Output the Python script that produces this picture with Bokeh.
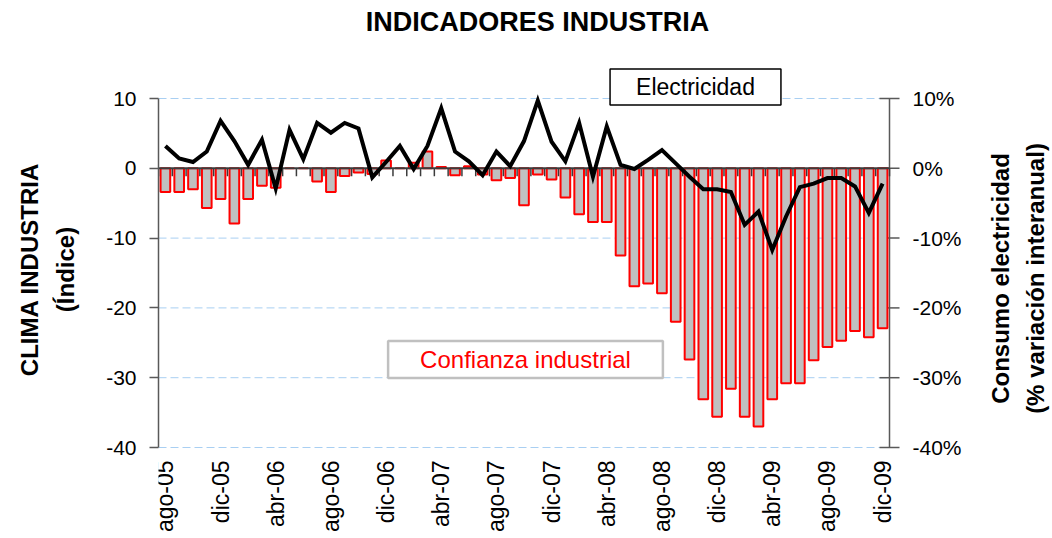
import math
from bokeh.plotting import figure
from bokeh.models import (Range1d, FixedTicker, PrintfTickFormatter,
                          Label, ColumnDataSource)
from bokeh.core.properties import value
from bokeh.embed import file_html
from bokeh.resources import INLINE

# ---------------- data ----------------
month_names = ["ene", "feb", "mar", "abr", "may", "jun", "jul", "ago", "sep", "oct", "nov", "dic"]
months = [f"{month_names[(7 + i) % 12]}-{5 + (7 + i) // 12:02d}" for i in range(53)]

confianza = [-3.4, -3.4, -3.0, -5.7, -4.4, -7.9, -4.4, -2.5, -2.8, 0.0,
             0.0, -1.9, -3.4, -1.1, -0.6, -0.8, 1.1, 0.0, 0.8, 2.4,
             0.2, -1.0, 0.3, -0.9, -1.7, -1.4, -5.3, -0.9, -1.6, -4.2,
             -6.6, -7.7, -7.7, -12.5, -16.9, -16.5, -17.9, -22.0, -27.4, -33.1,
             -35.6, -31.6, -35.6, -37.0, -33.1, -30.8, -30.8, -27.5, -25.6, -24.7,
             -23.3, -24.2, -22.9]

electricidad = [3.2, 1.4, 0.9, 2.4, 6.8, 3.9, 0.5, 4.1, -2.9, 5.5,
                1.3, 6.5, 5.1, 6.5, 5.7, -1.3, 0.9, 3.2, -0.1, 3.2,
                8.6, 2.4, 1.0, -1.0, 2.4, 0.3, 3.9, 9.7, 3.8, 1.0,
                6.5, -1.2, 6.0, 0.5, -0.1, 1.2, 2.6, 0.7, -1.2, -3.0,
                -3.0, -3.4, -8.1, -6.2, -11.7, -6.9, -2.7, -2.2, -1.4, -1.4,
                -2.6, -6.4, -2.2]

axis_ticks = [-40, -30, -20, -10, 0, 10]
pct_labels = [f"{t}%" for t in axis_ticks]
label_every = 4

# ---------------- layout (pixels) ----------------
FONT = "Liberation Sans"
W, H = 1052, 538
FL, FR = 158, 889              # plot-area left / right (pixels)
Y_TOP_PX, Y_BOT_PX = 98, 447   # pixel rows of +10 and -40
AX_COLOR = "#595959"
n = len(months)
ymax_v, ymin_v = max(axis_ticks), min(axis_ticks)
k = (Y_BOT_PX - Y_TOP_PX) / (ymax_v - ymin_v)      # px per unit (y)
kx = (FR - FL) / n                                  # px per month
y_hi = ymax_v + Y_TOP_PX / k
y_lo = ymin_v - (H - Y_BOT_PX) / k
x_hi = (W - FL) / kx

def xd(px):
    return (px - FL) / kx

def yd(py):
    return ymax_v - (py - Y_TOP_PX) / k

xs = [i + 0.5 for i in range(n)]

p = figure(width=W, height=H, output_backend="svg", toolbar_location=None,
           x_range=Range1d(0, x_hi), y_range=Range1d(y_lo, y_hi),
           x_axis_location=None,
           min_border_left=FL, min_border_right=0, min_border_top=0,
           min_border_bottom=0, background_fill_color="white",
           border_fill_color="white", outline_line_color=None)
p.xgrid.visible = False
p.ygrid.visible = False

# dashed horizontal grid (only across the plot area)
p.segment(x0=[0] * len(axis_ticks), x1=[n] * len(axis_ticks), y0=axis_ticks, y1=axis_ticks,
          line_color="#A9CFF2", line_dash="8 4", line_width=1)

# left axis
ly = p.yaxis[0]
ly.ticker = FixedTicker(ticks=axis_ticks)
ly.bounds = (ymin_v, ymax_v)
ly.formatter = PrintfTickFormatter(format="%d")
ly.axis_line_color = AX_COLOR
ly.axis_line_width = 1.5
ly.major_tick_line_color = AX_COLOR
ly.major_tick_line_width = 1.5
ly.minor_tick_line_color = None
ly.major_tick_out = 9
ly.major_tick_in = 0
ly.major_label_standoff = 13
ly.major_label_text_font = FONT
ly.major_label_text_font_size = "21px"
ly.major_label_text_color = "black"
ly.axis_label = "CLIMA INDUSTRIA\n(Índice)"
ly.axis_label_standoff = 24
ly.axis_label_text_font = FONT
ly.axis_label_text_font_size = "24px"
ly.axis_label_text_font_style = "bold"
ly.axis_label_text_color = "black"
ly.axis_label_text_line_height = 1.35

# right (percentage) axis drawn at the end of the category range
tick_half = 10 / kx
p.segment(x0=[n], x1=[n], y0=[ymin_v], y1=[ymax_v], line_color=AX_COLOR, line_width=1.5)
p.segment(x0=[n - tick_half] * len(axis_ticks), x1=[n + tick_half] * len(axis_ticks),
          y0=axis_ticks, y1=axis_ticks, line_color=AX_COLOR, line_width=1.5)
p.text(x=[n + 23 / kx] * len(axis_ticks), y=axis_ticks, text=pct_labels,
       text_align="left", text_baseline="middle", text_font=value(FONT),
       text_font_size="21px", text_color="black")
for txt, px in [("Consumo electricidad", 1000), ("(% variación interanual)", 1035)]:
    p.add_layout(Label(x=xd(px), y=yd(278), text=txt, angle=math.pi / 2,
                       text_font=FONT, text_font_size="24px", text_font_style="bold",
                       text_color="black", text_align="center", text_baseline="middle"))

# bars
src = ColumnDataSource(dict(x=xs, conf=confianza, elec=electricidad))
p.vbar(x="x", top="conf", bottom=0, width=0.7, source=src,
       fill_color="#C0C0C0", line_color="#FF0000", line_width=2)

# zero (category) axis line with ticks between months
bounds = list(range(n + 1))
p.segment(x0=[0], x1=[n], y0=[0], y1=[0], line_color="#3C3C3C", line_width=2)
p.segment(x0=bounds, x1=bounds, y0=[0] * len(bounds), y1=[-8 / k] * len(bounds),
          line_color="#3C3C3C", line_width=1.5)

# electricity line (right axis, same scale in %)
p.line(x="x", y="elec", source=src, line_color="black", line_width=4,
       line_join="miter")

# month labels under the chart (every 4th month)
lab_idx = list(range(0, n, label_every))
p.text(x=[xs[i] for i in lab_idx], y=[yd(Y_BOT_PX + 13)] * len(lab_idx),
       text=[months[i] for i in lab_idx], angle=math.pi / 2,
       text_align="right", text_baseline="middle",
       text_font=value(FONT), text_font_size="23px", text_color="black")

# title
p.add_layout(Label(x=xd(537), y=yd(21), text="INDICADORES INDUSTRIA", text_font=FONT,
                   text_font_size="27px", text_font_style="bold", text_color="black",
                   text_align="center", text_baseline="middle"))

# annotations
p.add_layout(Label(x=xd(695), y=yd(86.5), text="Electricidad", text_font=FONT,
                   text_font_size="23px", text_color="black",
                   text_align="center", text_baseline="middle",
                   border_line_color="black", border_line_width=1.5,
                   background_fill_color="white",
                   padding=dict(left=26, right=26, top=5, bottom=5)))
p.add_layout(Label(x=xd(525), y=yd(359), text="Confianza industrial", text_font=FONT,
                   text_font_size="24px", text_color="#FF0000",
                   text_align="center", text_baseline="middle",
                   border_line_color="#C0C0C0", border_line_width=2.5,
                   background_fill_color="white",
                   padding=dict(left=32, right=32, top=5, bottom=5)))

open("out.html", "w").write(file_html(p, INLINE))
